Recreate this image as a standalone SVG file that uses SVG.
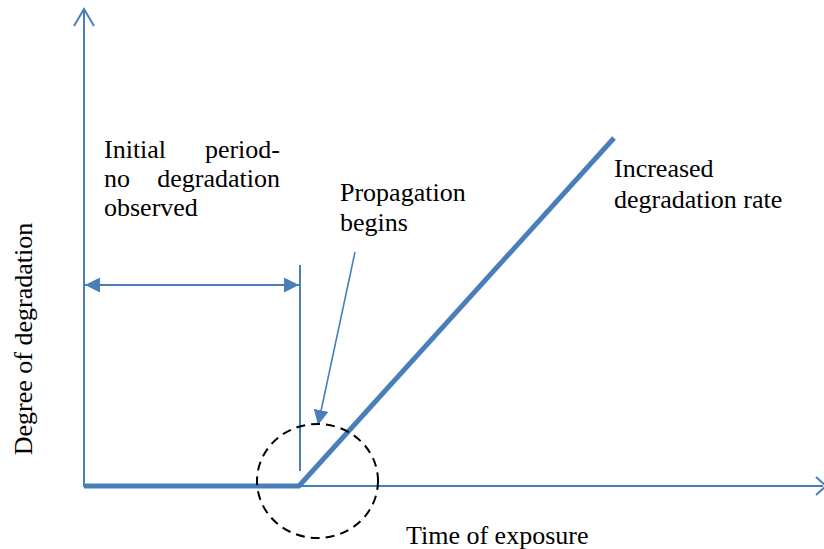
<svg xmlns="http://www.w3.org/2000/svg" width="824" height="549" viewBox="0 0 824 549">
<style>
.ax{stroke:#4A7EBB;stroke-width:2;fill:none}
.thin{stroke:#4A7EBB;stroke-width:1.6;fill:none}
.thick{stroke:#4A7EBB;stroke-width:5;fill:none;stroke-linejoin:miter}
.t{font-family:"Liberation Serif","Times New Roman",serif;font-size:26px;fill:#000}
</style>
<defs>
<marker id="fa" viewBox="0 0 10 10" refX="10" refY="5" markerWidth="15" markerHeight="15" markerUnits="userSpaceOnUse" orient="auto-start-reverse">
<path d="M0,0 L10,5 L0,10 Z" fill="#4A7EBB"/>
</marker>
</defs>
<rect width="824" height="549" fill="#fff"/>
<g id="axes">
<line class="ax" x1="84" y1="487" x2="84" y2="9"/>
<polyline class="ax" points="74,26 84,9 94,26"/>
<line class="ax" x1="84" y1="486" x2="823" y2="486"/>
<polyline class="ax" points="816,477 826,486 816,495"/>
</g>
<g id="curve">
<polyline class="thick" points="84,486 299,486 614,138"/>
</g>
<g id="connectors">
<line class="ax" x1="300" y1="265" x2="300" y2="471"/>
<line class="ax" x1="85" y1="285" x2="299" y2="285" marker-start="url(#fa)" marker-end="url(#fa)"/>
<line class="thin" x1="355" y1="252" x2="318" y2="425" marker-end="url(#fa)"/>
</g>
<g id="circle">
<ellipse cx="317.5" cy="481" rx="60.5" ry="57" fill="none" stroke="#000" stroke-width="2" stroke-dasharray="9,6"/>
</g>
<g id="labels">
<text class="t" x="104" y="158">Initial</text>
<text class="t" x="280" y="158" text-anchor="end">period-</text>
<text class="t" x="104" y="187">no</text>
<text class="t" x="280" y="187" text-anchor="end">degradation</text>
<text class="t" x="104" y="216">observed</text>
<text class="t" x="340" y="201">Propagation</text>
<text class="t" x="340" y="231">begins</text>
<text class="t" x="614" y="177">Increased</text>
<text class="t" x="614" y="208">degradation rate</text>
<text class="t" x="406" y="544">Time of exposure</text>
<text class="t" transform="translate(32,339) rotate(-90)" text-anchor="middle">Degree of degradation</text>
</g>
</svg>
